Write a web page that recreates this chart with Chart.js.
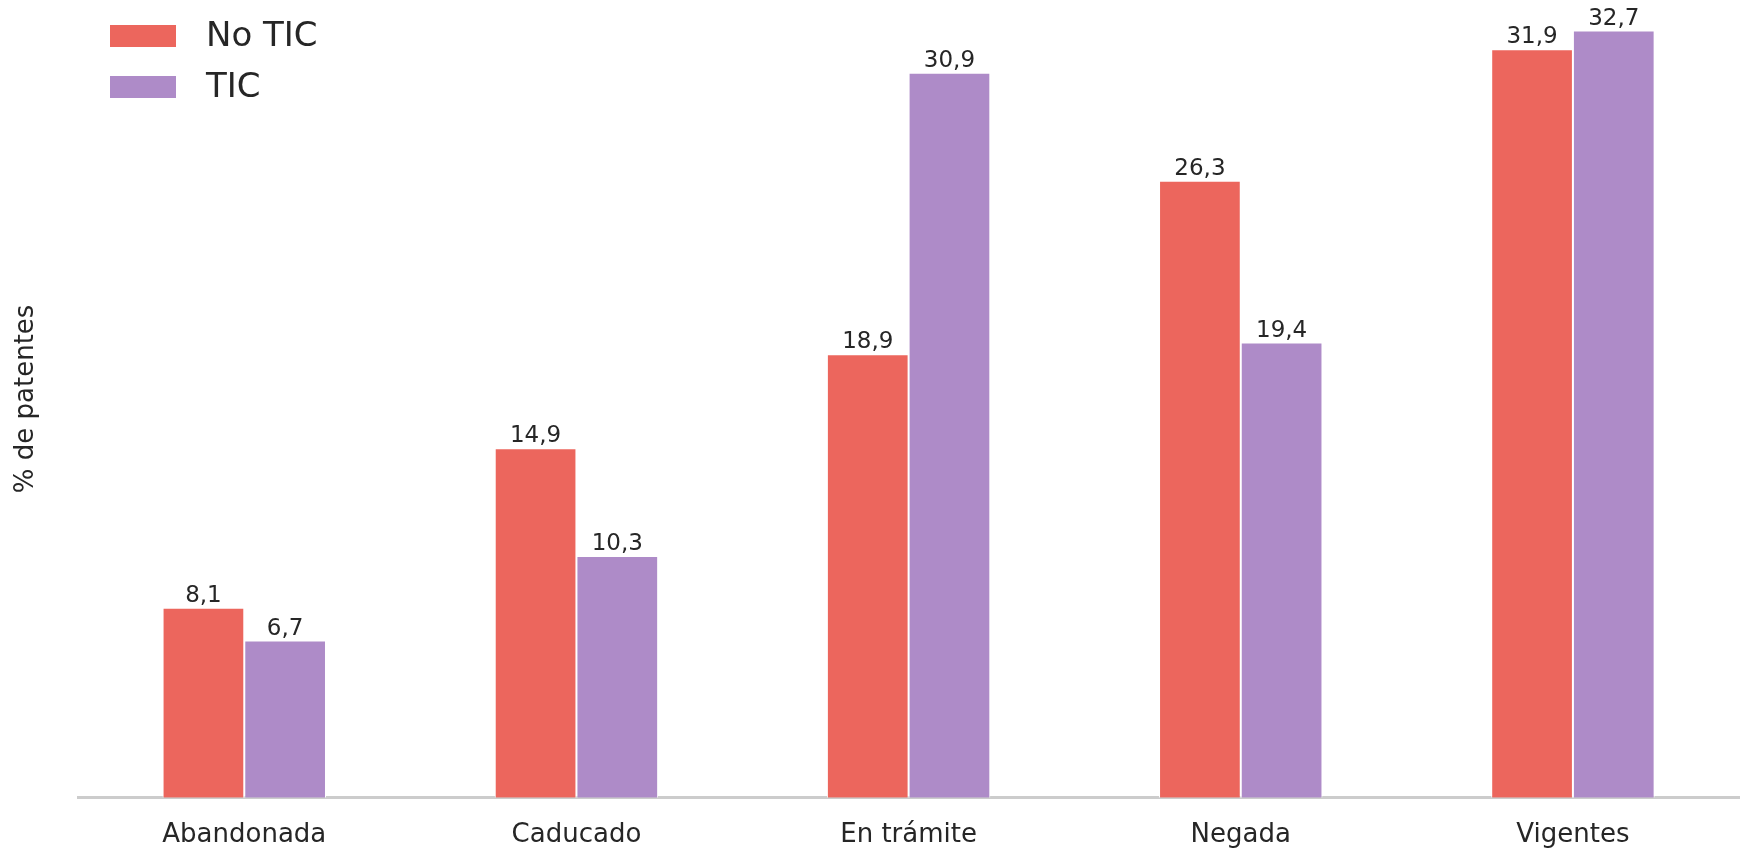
<!DOCTYPE html>
<html>
<head>
<meta charset="utf-8">
<script src="https://cdn.jsdelivr.net/npm/chart.js@4.4.1/dist/chart.umd.min.js"></script>
<style>
  html, body { margin: 0; padding: 0; background: #fff; }
  #wrap { width: 1743px; height: 853px; position: relative; }
</style>
</head>
<body>
<div id="wrap"><canvas id="chart"></canvas></div>
<script>
const categories = ['Abandonada', 'Caducado', 'En trámite', 'Negada', 'Vigentes']
const noTic = [8.1, 14.9, 18.9, 26.3, 31.9]
const tic = [6.7, 10.3, 30.9, 19.4, 32.7]
const seriesNames = ['No TIC', 'TIC']
const colors = ['rgb(236, 102, 93)', 'rgb(174, 139, 200)']
const textColor = '#262626'
const font = '"DejaVu Sans", sans-serif'

// numbers over the bars, with a decimal comma
const valueLabels = {
  id: 'valueLabels',
  afterDatasetsDraw(chart) {
    const ctx = chart.ctx
    ctx.save()
    ctx.font = '23px ' + font
    ctx.fillStyle = textColor
    ctx.textAlign = 'center'
    ctx.textBaseline = 'alphabetic'
    chart.data.datasets.forEach((ds, i) => {
      chart.getDatasetMeta(i).data.forEach((bar, j) => {
        ctx.fillText(ds.data[j].toFixed(1).replace('.', ','), bar.x, bar.y - 6)
      })
    })
    ctx.restore()
  }
}

// legend sits inside the plot, top left, stacked
const insideLegend = {
  id: 'insideLegend',
  afterDraw(chart) {
    const ctx = chart.ctx
    ctx.save()
    ctx.font = '34px ' + font
    ctx.textBaseline = 'middle'
    ctx.textAlign = 'left'
    chart.data.datasets.forEach((ds, i) => {
      const y = 25 + i * 51
      ctx.fillStyle = ds.backgroundColor
      ctx.fillRect(110, y, 66, 22)
      ctx.fillStyle = textColor
      ctx.fillText(ds.label, 206, y + 12)
    })
    ctx.restore()
  }
}

new Chart(document.getElementById('chart'), {
  type: 'bar',
  data: {
    labels: categories,
    datasets: [
      {
        label: seriesNames[0],
        data: noTic,
        backgroundColor: colors[0],
        borderColor: '#ffffff',
        borderWidth: 1,
        categoryPercentage: 0.492,
        barPercentage: 1.0
      },
      {
        label: seriesNames[1],
        data: tic,
        backgroundColor: colors[1],
        borderColor: '#ffffff',
        borderWidth: 1,
        categoryPercentage: 0.492,
        barPercentage: 1.0
      }
    ]
  },
  options: {
    responsive: true,
    maintainAspectRatio: false,
    animation: false,
    devicePixelRatio: 1,
    layout: { padding: { top: 0, right: 4, bottom: -20, left: 0 } },
    plugins: {
      legend: { display: false },
      tooltip: { enabled: false }
    },
    scales: {
      x: {
        grid: { display: false, drawTicks: false },
        border: { display: true, color: '#cccccc', width: 3 },
        ticks: {
          color: textColor,
          font: { family: 'DejaVu Sans', size: 26 },
          padding: 22
        }
      },
      y: {
        min: 0,
        max: 34.0,
        grid: { display: false, drawTicks: false },
        border: { display: false },
        ticks: { display: false },
        title: {
          display: true,
          text: '% de patentes',
          color: textColor,
          font: { family: 'DejaVu Sans', size: 26 },
          padding: { top: 11, bottom: 36 }
        }
      }
    }
  },
  plugins: [valueLabels, insideLegend]
})
</script>
</body>
</html>
